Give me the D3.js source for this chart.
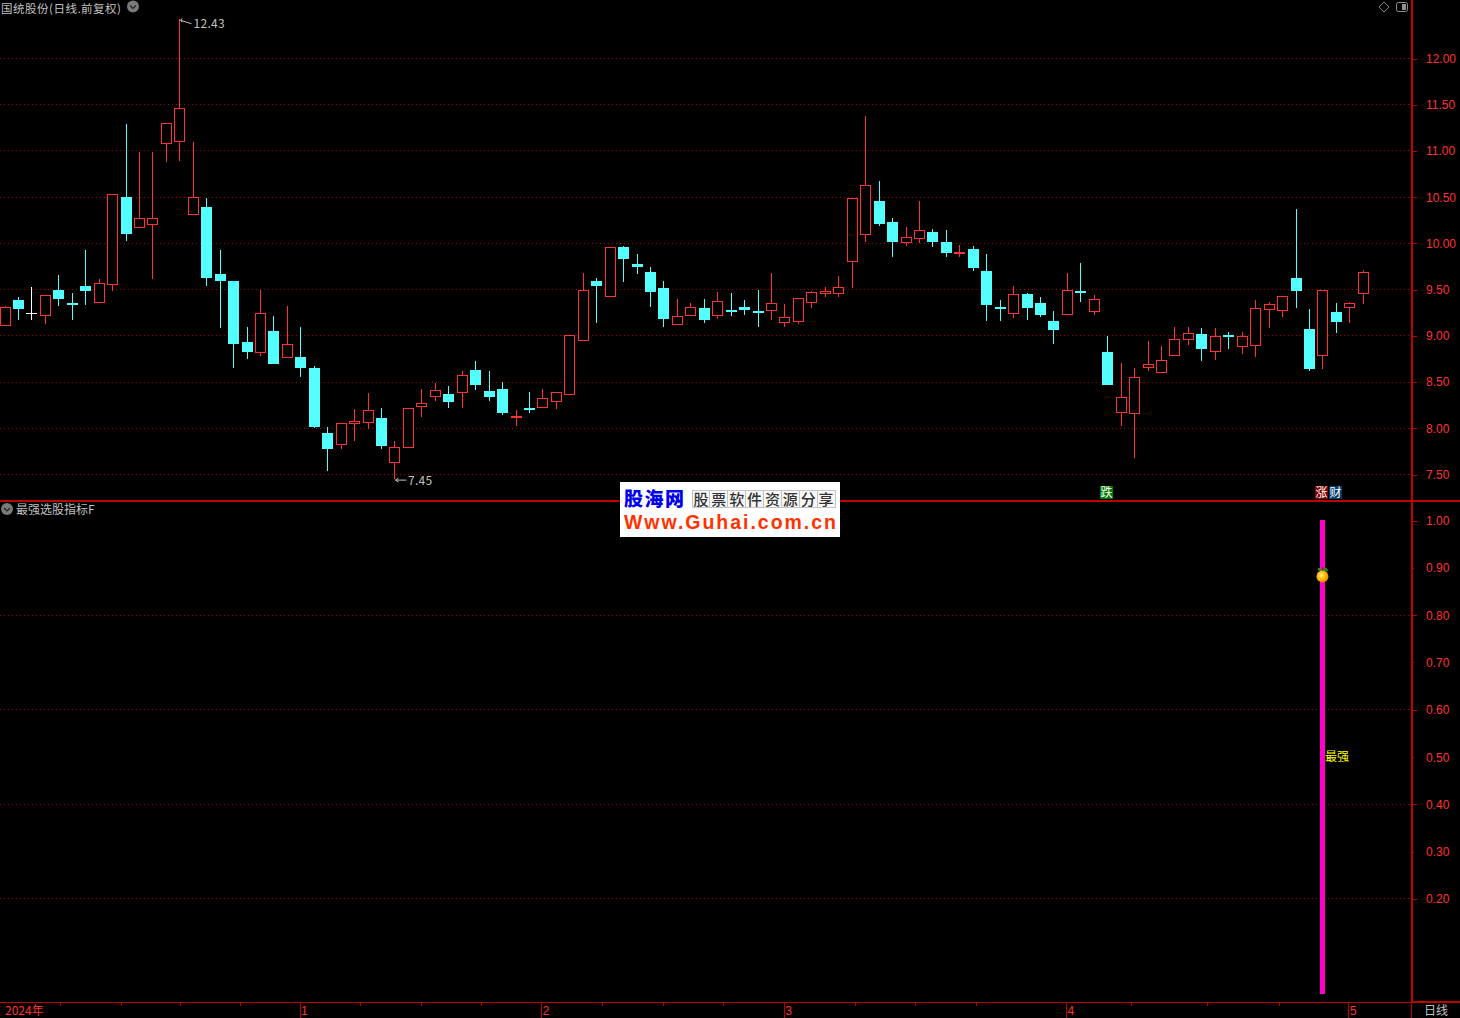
<!DOCTYPE html>
<html lang="zh">
<head>
<meta charset="utf-8">
<title>国统股份</title>
<script src="https://cdn.jsdelivr.net/npm/d3@7/dist/d3.min.js"></script>
<style>
html,body{margin:0;padding:0;background:#000;overflow:hidden}
svg{display:block}
text{font-family:"Noto Sans CJK SC","Liberation Sans",sans-serif}
</style>
</head>
<body>
<svg id="chart" width="1460" height="1018"></svg>
<script>
const opens  = [9.12,9.39,9.25,9.23,9.50,9.35,9.54,9.37,9.56,10.50,10.18,10.21,11.09,11.11,10.32,10.39,9.67,9.59,8.93,8.83,9.05,8.77,8.77,8.65,7.95,7.83,8.06,8.07,8.11,7.63,7.80,8.24,8.35,8.37,8.39,8.63,8.40,8.42,8.12,8.22,8.23,8.30,8.37,8.95,9.59,9.43,9.96,9.78,9.69,9.52,9.13,9.22,9.30,9.22,9.28,9.31,9.27,9.28,9.15,9.16,9.37,9.46,9.46,9.81,10.10,10.46,10.23,10.01,10.06,10.12,10.02,9.90,9.94,9.70,9.31,9.25,9.45,9.35,9.16,9.24,9.49,9.27,8.83,8.18,8.17,8.66,8.61,8.79,8.97,9.02,8.84,9.01,8.89,8.90,9.29,9.28,9.63,9.07,8.79,9.26,9.31,9.46];
const highs  = [9.32,9.42,9.53,9.44,9.66,9.46,9.93,9.62,10.53,11.29,10.99,10.99,11.30,12.43,11.10,10.49,9.93,9.59,9.10,9.50,9.21,9.32,9.10,8.67,8.01,8.06,8.21,8.38,8.22,7.86,8.22,8.43,8.49,8.46,8.62,8.73,8.62,8.50,8.20,8.39,8.42,8.39,9.01,9.68,9.63,9.96,9.97,9.88,9.74,9.59,9.40,9.36,9.40,9.47,9.46,9.39,9.50,9.68,9.34,9.41,9.49,9.53,9.65,10.49,11.38,10.68,10.27,10.18,10.46,10.16,10.14,9.98,9.97,9.89,9.39,9.54,9.46,9.42,9.27,9.68,9.79,9.44,9.00,8.71,8.65,8.94,8.89,9.10,9.10,9.08,9.08,9.04,9.04,9.39,9.37,9.43,10.37,9.29,9.50,9.35,9.37,9.71];
const lows   = [9.12,9.17,9.17,9.13,9.32,9.17,9.33,9.36,9.49,10.03,10.18,9.61,10.88,10.89,10.32,9.54,9.09,8.65,8.75,8.78,8.69,8.77,8.56,8.00,7.54,7.78,7.86,7.99,7.78,7.45,7.80,8.12,8.30,8.22,8.22,8.41,8.29,8.14,8.02,8.16,8.23,8.21,8.37,8.95,9.14,9.43,9.58,9.67,9.31,9.10,9.13,9.22,9.14,9.18,9.21,9.22,9.10,9.17,9.10,9.13,9.30,9.42,9.42,9.52,10.02,10.19,9.85,9.97,10.00,9.96,9.85,9.85,9.70,9.16,9.16,9.19,9.17,9.20,8.91,9.24,9.37,9.22,8.47,8.03,7.68,8.62,8.61,8.79,8.90,8.73,8.74,8.86,8.80,8.77,9.09,9.20,9.30,8.62,8.64,9.03,9.14,9.34];
const closes = [9.31,9.29,9.25,9.44,9.40,9.33,9.49,9.57,10.53,10.10,10.28,10.27,11.30,11.46,10.50,9.63,9.59,8.91,8.83,9.25,8.69,8.91,8.65,8.01,7.78,8.06,8.08,8.20,7.81,7.80,8.22,8.27,8.41,8.28,8.58,8.47,8.34,8.16,8.13,8.21,8.33,8.39,9.01,9.50,9.54,9.96,9.83,9.74,9.47,9.18,9.21,9.31,9.17,9.38,9.27,9.28,9.25,9.36,9.20,9.41,9.47,9.49,9.53,10.49,10.63,10.21,10.02,10.07,10.15,10.02,9.90,9.91,9.73,9.33,9.29,9.45,9.30,9.22,9.06,9.50,9.47,9.40,8.47,8.34,8.56,8.70,8.74,8.97,9.03,8.86,9.00,8.99,9.00,9.30,9.34,9.43,9.48,8.64,9.50,9.15,9.35,9.69];

const priceTicks = [12,11.5,11,10.5,10,9.5,9,8.5,8,7.5];
const indicatorTicks = [1,0.9,0.8,0.7,0.6,0.5,0.4,0.3,0.2];
const indicatorGrid = [0.8,0.6,0.4,0.2];
const monthTicks = [21.9,39.85,57.9,78.9,99.9];
const monthLabels = ["1","2","3","4","5"];
const weekTicks = [4.1,8.6,13,17.5,26.4,30.9,35.4,44.4,48.9,53.4,63.2,67.7,72.2,83.7,89.4,94.7];

const indicatorIndex = 98;
const indicatorTop = 1;
const indicatorBottom = 0;
const indicatorIconValue = 0.885;
const indicatorLabelValue = 0.5;
const indicatorLabel = "最强";
const fallSignal = {index:81.9, text:"跌"};
const riseSignal = {index:97.9, text:"涨"};
const wealthSignal = {index:98.95, text:"财"};
const maxPoint = {index:13, value:12.43};
const minPoint = {index:29, value:7.45};
const stockTitle = "国统股份(日线.前复权)";
const indicatorTitle = "最强选股指标F";
const yearLabel = "2024年";
const periodLabel = "日线";
const logoCells = ["股","票","软","件","资","源","分","享"];

const RED="#ff3232", CYAN="#54ffff", AXIS="#bf0000", GRID="#a80000", GREY="#c0c0c0";
const svg = d3.select("#chart");
svg.append("rect").attr("width",1460).attr("height",1018).attr("fill","#000");

const x = d3.scaleLinear().domain([0,opens.length-1]).range([5.005,1363.253]);
const yP = d3.scaleLinear().domain([7.5,12]).range([474.5,58.5]);
const yI = d3.scaleLinear().domain([0,1]).range([993.5,520.5]);
const col = i => Math.floor(x(i));
const row = v => Math.round(v);

/* grids */
const grid = svg.append("g").attr("stroke",GRID).attr("stroke-dasharray","1 3").attr("shape-rendering","crispEdges");
grid.selectAll(".gp").data(priceTicks).join("line").attr("class","gp")
  .attr("x1",0).attr("x2",1411).attr("y1",d=>Math.floor(yP(d))+.5).attr("y2",d=>Math.floor(yP(d))+.5);
grid.selectAll(".gi").data(indicatorGrid).join("line").attr("class","gi")
  .attr("x1",0).attr("x2",1411).attr("y1",d=>Math.floor(yI(d))+.5).attr("y2",d=>Math.floor(yI(d))+.5);

/* candles */
const idx = d3.range(opens.length);
const colorOf = i => opens[i]===closes[i] ? "#ffffff" : closes[i]>opens[i] ? RED : CYAN;
const candles = svg.append("g").attr("shape-rendering","crispEdges");
candles.selectAll(".wick").data(idx).join("rect").attr("class","wick")
  .attr("x",col).attr("width",1)
  .attr("y",i=>row(yP(highs[i])))
  .attr("height",i=>Math.max(1,row(yP(lows[i]))-row(yP(highs[i]))))
  .attr("fill",colorOf);
candles.selectAll(".body").data(idx).join("rect").attr("class","body")
  .each(function(i){
    const t=row(yP(Math.max(opens[i],closes[i]))), b=row(yP(Math.min(opens[i],closes[i])));
    const s=d3.select(this), c=col(i);
    if(closes[i]>opens[i]){
      s.attr("x",c-4.5).attr("y",t+.5).attr("width",10).attr("height",Math.max(1,b-t))
       .attr("fill","#000").attr("stroke",RED).attr("stroke-width",1);
    } else if(closes[i]<opens[i]){
      s.attr("x",c-5).attr("y",t).attr("width",11).attr("height",Math.max(2,b-t)).attr("fill",CYAN);
    } else {
      s.attr("x",c-5).attr("y",t).attr("width",11).attr("height",1).attr("fill","#fff");
    }
  });

/* extreme markers */
const extremes = svg.append("g").attr("fill",GREY);
function marker(p,path,tx,ty){
  const cx=col(p.index), py=yP(p.value);
  const g=extremes.append("g").attr("transform",`translate(${cx+.5},${py})`);
  g.append("path").attr("d",path).attr("fill","none").attr("stroke",GREY).attr("stroke-width",1);
  g.append("text").attr("x",tx).attr("y",ty).attr("font-size",12)
    .attr("font-family",'"Liberation Sans",sans-serif').attr("letter-spacing",".3").text(d3.format(".2f")(p.value));
}
marker(maxPoint,"M1,1.5 L12,5 M1,1.5 l2,-2 M1,1.5 l2,2",14,9);
marker(minPoint,"M1,1 H12 M1,1 l3,-2 M1,1 l3,2",13.5,5.5);

/* indicator */
svg.append("rect").attr("x",col(indicatorIndex)-2).attr("width",5)
  .attr("y",yI(indicatorTop)-.5).attr("height",yI(indicatorBottom)-yI(indicatorTop)+1)
  .attr("fill","#ff00cc").attr("shape-rendering","crispEdges");
svg.append("text").attr("x",col(indicatorIndex)+3).attr("y",yI(indicatorLabelValue)-.5)
  .attr("dy","0.36em").attr("font-size",12).attr("fill","#ffff00").text(indicatorLabel);

const defs = svg.append("defs");
const rg = defs.append("radialGradient").attr("id","orange").attr("cx","40%").attr("cy","40%").attr("r","65%");
rg.append("stop").attr("offset","0%").attr("stop-color","#fff27a");
rg.append("stop").attr("offset","55%").attr("stop-color","#ffb800");
rg.append("stop").attr("offset","100%").attr("stop-color","#e67a00");
const ix=col(indicatorIndex)+.5, iy=yI(indicatorIconValue);
const icon=svg.append("g").attr("transform",`translate(${ix},${iy})`);
icon.append("path").attr("d","M0,-3 L-5,-5 L-4,-7.5 L-1,-6 Z").attr("fill","#3a8a20");
icon.append("path").attr("d","M0,-3 L6,-4 L4,-7.5 L1,-6 Z").attr("fill","#2f7a18");
icon.append("path").attr("d","M0,-3 V-8").attr("stroke","#553311").attr("stroke-width",1);
icon.append("circle").attr("cx",0).attr("cy",1.5).attr("r",6).attr("fill","url(#orange)");

/* panel lines */
const lines=svg.append("g").attr("stroke",AXIS).attr("shape-rendering","crispEdges");
lines.append("line").attr("x1",0).attr("x2",1460).attr("y1",500.5).attr("y2",500.5).attr("stroke-width",2);
lines.append("line").attr("x1",0).attr("x2",1460).attr("y1",1002.5).attr("y2",1002.5).attr("stroke-width",1);
lines.append("line").attr("x1",1411.5).attr("x2",1411.5).attr("y1",0).attr("y2",1002).attr("stroke-width",2);
lines.append("line").attr("x1",1411).attr("x2",1460).attr("y1",1002).attr("y2",1002).attr("stroke-width",2);

/* value axes */
function styleAxis(g){
  g.select(".domain").remove();
  g.selectAll(".tick line").attr("stroke",AXIS).attr("shape-rendering","crispEdges");
  g.selectAll(".tick text").attr("fill",RED).attr("font-size",12)
    .style("font-family",'"Liberation Sans",sans-serif');
}
svg.append("g").attr("transform","translate(1412,0)")
  .call(d3.axisRight(yP).tickValues(priceTicks).tickFormat(d3.format(".2f")).tickSize(5).tickPadding(9))
  .call(styleAxis);
svg.append("g").attr("transform","translate(1412,0)")
  .call(d3.axisRight(yI).tickValues(indicatorTicks).tickFormat(d3.format(".2f")).tickSize(5).tickPadding(9))
  .call(styleAxis)
  .call(g=>g.selectAll(".tick line").attr("x2",d=>(Math.round(d*10)%2===0)?5:2))
  .call(g=>g.selectAll(".tick text").attr("y",0.2));

/* time axis */
svg.append("g").attr("transform","translate(0,1003)")
  .call(d3.axisBottom(x).tickValues(monthTicks).tickSize(15).tickPadding(-12)
    .tickFormat((d,i)=>monthLabels[i]))
  .call(g=>{
    g.select(".domain").remove();
    g.selectAll(".tick line").attr("stroke",AXIS).attr("shape-rendering","crispEdges");
    g.selectAll(".tick text").attr("fill",RED).attr("font-size",12)
      .attr("text-anchor","start").attr("x",1).attr("y",3).attr("dy","0.71em")
      .style("font-family",'"Liberation Sans",sans-serif');
  });
svg.append("g").attr("transform","translate(0,1003)")
  .call(d3.axisBottom(x).tickValues(weekTicks).tickSize(3).tickFormat(""))
  .call(g=>{g.select(".domain").remove();
    g.selectAll(".tick line").attr("stroke",AXIS).attr("shape-rendering","crispEdges");});
svg.append("line").attr("x1",1411.5).attr("x2",1411.5).attr("y1",1003).attr("y2",1018).attr("stroke",AXIS).attr("shape-rendering","crispEdges");
svg.append("text").attr("x",5).attr("y",1015).attr("font-size",12).attr("fill",RED).text(yearLabel);
svg.append("text").attr("x",1424).attr("y",1015).attr("font-size",12).attr("fill",GREY).text(periodLabel);

/* titles */
function chevron(cx,cy){
  svg.append("circle").attr("cx",cx).attr("cy",cy).attr("r",6).attr("fill","#7a7a7a");
  svg.append("path").attr("d",`M${cx-3},${cy-1} L${cx},${cy+2} L${cx+3},${cy-1}`)
    .attr("fill","none").attr("stroke","#222").attr("stroke-width",1.2);
}
svg.append("text").attr("x",1).attr("y",13.4).attr("font-size",11.5).attr("fill",GREY)
  .attr("textLength",120).attr("lengthAdjust","spacing").text(stockTitle);
chevron(133,6.5);
svg.append("text").attr("x",16).attr("y",514).attr("font-size",12).attr("fill",GREY).text(indicatorTitle);
chevron(7,509);
svg.append("path").attr("d","M1384,2 L1389,7 L1384,12 L1379,7 Z").attr("fill","none").attr("stroke","#808080");
svg.append("rect").attr("x",1396.5).attr("y",2.5).attr("width",11).attr("height",9).attr("rx",2).attr("fill","none").attr("stroke","#909090");
svg.append("rect").attr("x",1402).attr("y",4).attr("width",4).attr("height",6).attr("fill","#909090");

/* signal tags */
function tag(s,bg){
  const g=svg.append("g").attr("transform",`translate(${Math.round(x(s.index)-6.5)},486)`);
  g.append("rect").attr("width",13).attr("height",13).attr("fill",bg);
  g.append("text").attr("x",6.5).attr("y",11).attr("text-anchor","middle").attr("font-size",12).attr("fill","#fff").text(s.text);
}
tag(fallSignal,"#007a00");
tag(riseSignal,"#800000");
tag(wealthSignal,"#003a70");

/* watermark */
const logo=svg.append("g");
logo.append("rect").attr("x",620).attr("y",482).attr("width",220).attr("height",55).attr("fill","#fff");
logo.append("text").attr("x",624).attr("y",505.5).attr("font-size",19).attr("font-weight",900)
  .attr("fill","#0000ee").attr("textLength",60).text("股海网");
const cellX=d3.scaleBand().domain(d3.range(logoCells.length)).range([692,835]);
logo.selectAll(".cell").data(logoCells).join("rect").attr("class","cell")
  .attr("x",(d,i)=>cellX(i)).attr("y",490.5).attr("width",cellX.bandwidth()).attr("height",17)
  .attr("fill","#f8f8f8").attr("stroke","#c4c4c4").attr("shape-rendering","crispEdges");
logo.selectAll(".ct").data(logoCells).join("text").attr("class","ct")
  .attr("x",(d,i)=>cellX(i)+cellX.bandwidth()/2).attr("y",504.5).attr("text-anchor","middle")
  .attr("font-size",15).attr("font-weight",500).attr("fill","#333").text(d=>d);
logo.append("text").attr("x",624).attr("y",528.5).attr("font-size",19.5).attr("font-weight",700)
  .style("font-family",'"Liberation Sans",sans-serif').attr("fill","#ff3300")
  .attr("textLength",212).attr("lengthAdjust","spacing").text("Www.Guhai.com.cn");
</script>
</body>
</html>
